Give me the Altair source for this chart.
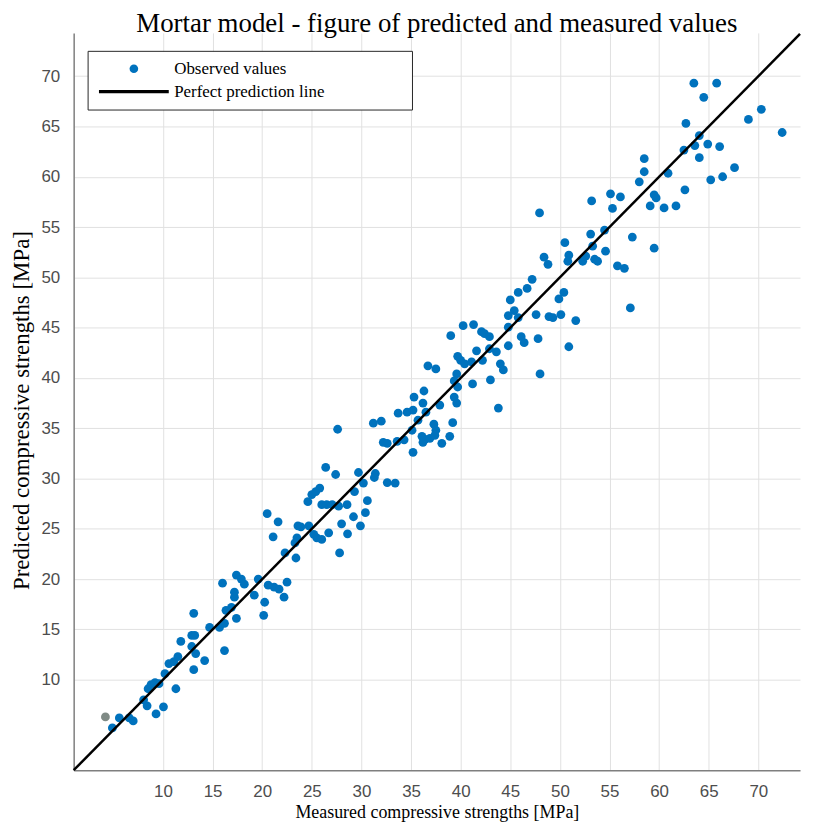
import altair as alt
import pandas as pd

# Observed (measured, predicted) pairs
measured = [
    4.9, 5.6, 6.6, 7.0, 8.05, 8.4, 9.3, 10.05,
    8.5, 8.8, 9.2, 9.6, 11.3,
    10.2, 10.6, 11.1, 11.5, 11.8,
    12.9, 13.2, 13.1, 12.9, 13.3, 13.1, 14.2,
    14.7, 15.7, 16.2, 16.2, 16.0, 16.35, 16.9, 17.4, 17.2, 17.2, 17.4, 17.9, 18.2, 19.2, 19.6, 20.25, 20.15, 20.6, 21.2, 21.7, 22.2, 22.5,
    20.5, 21.6, 21.1, 23.6, 23.9, 24.7, 23.5, 23.3, 22.3, 23.4,
    24.6, 25.0, 25.4, 25.8, 26.0, 26.5, 27.05, 27.7, 28.55,
    26.7, 25.5, 26.0, 25.2, 27.8,
    28.0, 28.6, 29.2, 29.9, 30.4, 30.6, 29.3,
    26.4, 27.4, 29.7, 31.4, 31.3, 30.2,
    27.6, 31.2, 32.0, 32.6, 33.4,
    33.7, 34.6, 35.2, 35.3, 36.2, 36.3, 36.5, 37.9, 35.7, 37.3, 35.1, 37.5, 39.2, 36.1, 36.4, 36.2, 36.9, 37.4, 38.9, 38.1, 34.3, 33.6, 32.2, 32.6, 35.2,
    36.7, 37.5, 39.35, 39.6, 43.8,
    39.6, 39.35, 39.7, 41.2, 43.0,
    39.7, 40.0, 40.4, 41.1, 42.2, 44.0, 44.3,
    41.6, 42.9, 43.6,
    39.0, 40.25, 41.3, 42.1, 42.4, 42.9,
    44.8, 46.1, 46.4, 44.8, 47.8, 48.0, 50.9,
    45.0, 45.4, 44.8, 45.8,
    47.6, 48.9, 49.3, 50.1, 51.6,
    45.8, 46.7, 47.2, 50.4, 49.9,
    48.4, 48.8, 50.5, 50.9, 50.8, 47.95,
    52.3, 52.6, 53.5, 53.8, 53.3, 53.1, 54.5, 54.6, 55.8, 56.5, 57.1, 57.3,
    53.2, 55.1, 56.1, 55.3,
    58.0, 58.5, 58.5, 59.5, 59.7, 59.1, 60.5, 61.7, 60.9, 59.5,
    62.6, 62.5, 63.6, 64.05, 62.7, 64.9, 66.1, 64.05, 67.6, 66.4, 65.2,
    63.5, 65.8, 64.5, 70.3, 69.0, 72.4,
]
predicted = [
    5.2, 6.2, 6.2, 5.9, 8.0, 7.4, 6.6, 7.3,
    9.1, 9.5, 9.7, 9.6, 9.1,
    10.6, 11.6, 11.8, 12.3, 13.8,
    14.4, 14.4, 16.6, 13.3, 12.6, 11.0, 11.9,
    15.2, 15.2, 15.6, 12.9, 19.6, 16.9, 17.2, 16.1, 18.7, 18.2, 20.4, 20.0, 19.5, 18.4, 20.0, 17.7, 16.4, 19.4, 19.2, 19.0, 18.2, 19.7,
    26.5, 25.7, 24.2, 25.3, 25.2, 25.3, 24.1, 23.6, 22.6, 22.1,
    27.7, 28.4, 28.7, 29.05, 27.4, 27.4, 27.4, 27.25, 27.4,
    24.6, 24.1, 23.95, 24.45, 22.6,
    25.5, 24.5, 26.2, 25.3, 26.6, 27.8, 28.7,
    31.1, 30.4, 30.6, 30.5, 30.1, 29.55,
    34.9, 35.5, 35.7, 29.6, 29.55,
    36.5, 36.6, 36.8, 38.1, 37.5, 38.7, 36.6, 37.3, 35.8, 35.4, 34.8, 34.8, 35.55, 34.2, 33.9, 33.6, 34.0, 34.3, 34.2, 33.5, 33.85, 33.7, 33.6, 33.5, 32.6,
    41.2, 40.9, 38.1, 37.5, 37.0,
    40.4, 39.7, 39.1, 39.4, 39.8,
    42.15, 41.75, 41.4, 41.6, 41.75, 41.4, 40.8,
    42.7, 42.9, 42.6,
    44.2, 45.2, 45.3, 44.6, 44.4, 44.1,
    45.05, 44.1, 43.5, 43.2, 43.9, 40.4, 43.1,
    47.75, 46.7, 46.2, 46.0,
    46.3, 46.1, 46.0, 46.3, 45.7,
    48.5, 48.9, 49.8, 48.5, 47.85,
    52.0, 51.3, 53.45, 52.2, 51.6, 56.4,
    51.6, 52.1, 51.8, 51.6, 53.1, 54.3, 54.7, 52.6, 51.15, 50.9, 46.96, 54.0,
    57.6, 58.3, 58.0, 56.85,
    59.5, 60.5, 61.8, 58.2, 57.9, 57.1, 56.9, 57.1, 60.35, 52.9,
    58.7, 62.65, 63.1, 64.1, 65.3, 63.25, 63.0, 61.9, 60.9, 60.0, 59.7,
    69.3, 69.3, 67.9, 66.7, 65.7, 64.4,
]

# single grey point in the lower-left corner
grey_measured = [4.2]
grey_predicted = [6.3]

# axis ranges and the perfect prediction line y = x across the x range
axis_min = 1
x_axis_max = 74.2
y_axis_max = 74.3
line_measured = [axis_min, x_axis_max]
line_predicted = [axis_min, x_axis_max]

series_names = ["Observed values", "Perfect prediction line"]
tick_values = [10, 15, 20, 25, 30, 35, 40, 45, 50, 55, 60, 65, 70]

pts = pd.DataFrame({"measured": measured, "predicted": predicted, "series": series_names[0]})
grey = pd.DataFrame({"measured": grey_measured, "predicted": grey_predicted})
line = pd.DataFrame({"measured": line_measured, "predicted": line_predicted, "series": series_names[1]})

x_scale = alt.Scale(domain=[axis_min, x_axis_max], nice=False, zero=False)
y_scale = alt.Scale(domain=[axis_min, y_axis_max], nice=False, zero=False)

x_axis = alt.Axis(title="Measured compressive strengths [MPa]", values=tick_values)
y_axis = alt.Axis(title="Predicted compressive strengths [MPa]", values=tick_values)

color_scale = alt.Scale(domain=series_names, range=["#0072BD", "#000000"])
shape_scale = alt.Scale(domain=series_names, range=["circle", "M-8.1,-0.37H8.1V0.37H-8.1Z"])

# trailing no-break spaces (closed by a zero-width joiner so they are not trimmed)
pad = "\u00a0" * 19 + "\u200d"
legend = alt.Legend(
    title=None, orient="none", legendX=14, legendY=18,
    strokeColor="#262626", fillColor="white", padding=7,
    clipHeight=22, rowPadding=1, symbolSize=75, symbolStrokeWidth=0,
    symbolOffset=31, labelOffset=32, labelLimit=400,
    labelFont="Liberation Serif", labelFontSize=17, labelColor="black",
    labelExpr=f"datum.label + '{pad}'",
)

x_enc = alt.X("measured:Q", scale=x_scale, axis=x_axis)
y_enc = alt.Y("predicted:Q", scale=y_scale, axis=y_axis)

points = alt.Chart(pts).mark_point(filled=True, size=78, opacity=1).encode(
    x=x_enc, y=y_enc,
    color=alt.Color("series:N", scale=color_scale, legend=legend),
    shape=alt.Shape("series:N", scale=shape_scale, legend=legend),
)

grey_pt = alt.Chart(grey).mark_point(filled=True, size=78, opacity=1, color="#7f8a85", shape="circle").encode(
    x=x_enc, y=y_enc,
)

ideal = alt.Chart(line).mark_line(strokeWidth=2.5).encode(
    x=x_enc, y=y_enc,
    color=alt.Color("series:N", scale=color_scale, legend=legend),
)

chart = alt.layer(points, grey_pt, ideal).properties(
    width=730, height=741,
    padding={"left": 3, "top": 0, "right": 0, "bottom": 0},
    title=alt.TitleParams(
        text="Mortar model - figure of predicted and measured values",
        font="Liberation Serif", fontSize=27, fontWeight="normal",
        color="black", offset=-9, anchor="middle",
    ),
).configure_view(
    stroke="transparent"
).configure_axis(
    domainColor="#7f7f7f", domainWidth=1.5,
    gridColor="#e1e1e1", gridWidth=1,
    ticks=False,
    labelFont="Liberation Sans", labelFontSize=17, labelColor="#4d4d4d",
    labelPadding=12,
    titleFont="Liberation Serif", titleFontSize=18, titleFontWeight="normal",
    titleColor="black",
).configure_axisX(
    titlePadding=5, labelPadding=13,
).configure_axisY(
    titlePadding=7, titleFontSize=23, labelPadding=14, titleY=379,
)

chart.save("out.html", embed_options={"renderer": "svg", "actions": False})
